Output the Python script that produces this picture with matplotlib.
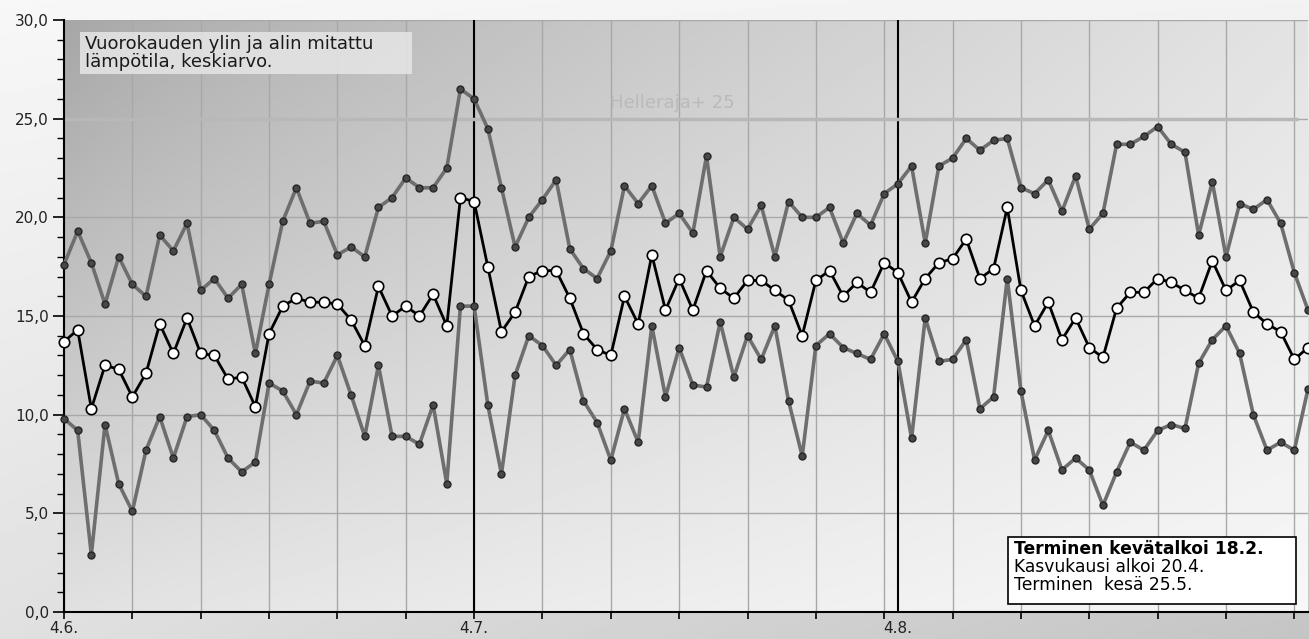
import numpy as np
import matplotlib
matplotlib.use("Agg")
import matplotlib.pyplot as plt
from matplotlib.ticker import MultipleLocator, FuncFormatter

plt.rcParams["font.family"] = ["DejaVu Sans"]

# daily values from 4.6. to 3.9.
t_max = [17.6, 19.3, 17.7, 15.6, 18.0, 16.6, 16.0, 19.1, 18.3, 19.7, 16.3, 16.9, 15.9, 16.6, 13.1, 16.6,
         19.8, 21.5, 19.7, 19.8, 18.1, 18.5, 18.0, 20.5, 21.0, 22.0, 21.5, 21.5, 22.5, 26.5, 26.0, 24.5,
         21.5, 18.5, 20.0, 20.9, 21.9, 18.4, 17.4, 16.9, 18.3, 21.6, 20.7, 21.6, 19.7, 20.2, 19.2, 23.1,
         18.0, 20.0, 19.4, 20.6, 18.0, 20.8, 20.0, 20.0, 20.5, 18.7, 20.2, 19.6, 21.2, 21.7, 22.6, 18.7,
         22.6, 23.0, 24.0, 23.4, 23.9, 24.0, 21.5, 21.2, 21.9, 20.3, 22.1, 19.4, 20.2, 23.7, 23.7, 24.1,
         24.6, 23.7, 23.3, 19.1, 21.8, 18.0, 20.7, 20.4, 20.9, 19.7, 17.2, 15.3]
t_mean = [13.7, 14.3, 10.3, 12.5, 12.3, 10.9, 12.1, 14.6, 13.1, 14.9, 13.1, 13.0, 11.8, 11.9, 10.4, 14.1,
          15.5, 15.9, 15.7, 15.7, 15.6, 14.8, 13.5, 16.5, 15.0, 15.5, 15.0, 16.1, 14.5, 21.0, 20.8, 17.5,
          14.2, 15.2, 17.0, 17.3, 17.3, 15.9, 14.1, 13.3, 13.0, 16.0, 14.6, 18.1, 15.3, 16.9, 15.3, 17.3,
          16.4, 15.9, 16.8, 16.8, 16.3, 15.8, 14.0, 16.8, 17.3, 16.0, 16.7, 16.2, 17.7, 17.2, 15.7, 16.9,
          17.7, 17.9, 18.9, 16.9, 17.4, 20.5, 16.3, 14.5, 15.7, 13.8, 14.9, 13.4, 12.9, 15.4, 16.2, 16.2,
          16.9, 16.7, 16.3, 15.9, 17.8, 16.3, 16.8, 15.2, 14.6, 14.2, 12.8, 13.4]
t_min = [9.8, 9.2, 2.9, 9.5, 6.5, 5.1, 8.2, 9.9, 7.8, 9.9, 10.0, 9.2, 7.8, 7.1, 7.6, 11.6,
         11.2, 10.0, 11.7, 11.6, 13.0, 11.0, 8.9, 12.5, 8.9, 8.9, 8.5, 10.5, 6.5, 15.5, 15.5, 10.5,
         7.0, 12.0, 14.0, 13.5, 12.5, 13.3, 10.7, 9.6, 7.7, 10.3, 8.6, 14.5, 10.9, 13.4, 11.5, 11.4,
         14.7, 11.9, 14.0, 12.8, 14.5, 10.7, 7.9, 13.5, 14.1, 13.4, 13.1, 12.8, 14.1, 12.7, 8.8, 14.9,
         12.7, 12.8, 13.8, 10.3, 10.9, 16.9, 11.2, 7.7, 9.2, 7.2, 7.8, 7.2, 5.4, 7.1, 8.6, 8.2,
         9.2, 9.5, 9.3, 12.6, 13.8, 14.5, 13.1, 10.0, 8.2, 8.6, 8.2, 11.3]

month_days = [0, 30, 61]
month_labels = ["4.6.", "4.7.", "4.8."]
helle_limit = 25
title_lines = ["Vuorokauden ylin ja alin mitattu", "lämpötila, keskiarvo."]
info_lines = ["Terminen kevätalkoi 18.2.", "Kasvukausi alkoi 20.4.", "Terminen  kesä 25.5."]

days = np.arange(len(t_mean))

W, H = 1309, 639
fig = plt.figure(figsize=(W / 100, H / 100), dpi=100)


def bilinear(tl, tr, bl, br, n=256, upow=1.0):
    u = np.linspace(0, 1, n)[None, :] ** upow
    v = np.linspace(0, 1, n)[:, None]  # 0 bottom, 1 top
    return tl * (1 - u) * v + tr * u * v + bl * (1 - u) * (1 - v) + br * u * (1 - v)


# figure background
bg = fig.add_axes([0, 0, 1, 1], zorder=-2)
bg.imshow(bilinear(0.97, 0.95, 0.88, 0.77), cmap="gray", vmin=0, vmax=1,
          origin="lower", extent=(0, 1, 0, 1), aspect="auto")
bg.axis("off")

left, right, top, bottom = 64, 1308, 20, 612
ax = fig.add_axes([left / W, 1 - bottom / H, (right - left) / W, (bottom - top) / H])
ax.patch.set_alpha(0)
ax.imshow(bilinear(0.65, 0.89, 0.88, 0.97, upow=0.75), cmap="gray", vmin=0, vmax=1,
          origin="lower", extent=(0, 1, 0, 1), aspect="auto",
          transform=ax.transAxes, zorder=0)

ax.set_xlim(0, 91)
ax.set_ylim(0, 30)


def px(x, y):
    # pixel position in the picture -> axes fraction
    return (x - left) / (right - left), (bottom - y) / (bottom - top)


# grid
ax.xaxis.set_major_locator(MultipleLocator(5))
ax.yaxis.set_major_locator(MultipleLocator(5))
ax.yaxis.set_minor_locator(MultipleLocator(1))
ax.grid(True, which="major", color="#a8a8a8", lw=1, zorder=1)
ax.set_axisbelow(True)

for d in month_days[1:]:
    ax.axvline(d, color="black", lw=1.5, zorder=2)

# heat limit line
ax.plot([0, 90.3], [helle_limit, helle_limit], color="#b8b8b8", lw=2.5, zorder=2,
        solid_capstyle="butt")
ax.text(44.5, 25.8, "Helleraja+ 25", color="#bababa", fontsize=13,
        ha="center", va="center", zorder=2)

# series
for ys in (t_max, t_min):
    ax.plot(days, ys, color="#6e6e6e", lw=2.6, marker="o", ms=5,
            mfc="#474747", mec="#262626", mew=1, zorder=3, clip_on=False)
ax.plot(days, t_mean, color="black", lw=2, marker="o", ms=7.5,
        mfc="white", mec="black", mew=1.2, zorder=4, clip_on=False)

# axes styling
for s in ("top", "right"):
    ax.spines[s].set_visible(False)
ax.spines["left"].set_linewidth(1.5)
ax.spines["bottom"].set_linewidth(1.5)

ax.yaxis.set_major_formatter(FuncFormatter(lambda v, p: f"{v:.1f}".replace(".", ",")))
ax.tick_params(axis="y", which="major", length=8, width=1.2, labelsize=11,
               labelcolor="#222222", pad=3)
ax.tick_params(axis="y", which="minor", length=5, width=1)
ax.tick_params(axis="x", which="major", length=5, width=1.2, labelbottom=False)

for d, lab in zip(month_days, month_labels):
    ax.annotate(lab, xy=(d, 0), xycoords=("data", "axes fraction"),
                xytext=(0, -9), textcoords="offset pixels", ha="center", va="top",
                fontsize=11, color="#222222", annotation_clip=False)

# description box
x0, y0 = px(80, 74)
x1, y1 = px(412, 32)
ax.add_patch(plt.Rectangle((x0, y0), x1 - x0, y1 - y0, transform=ax.transAxes,
                           fc="#e6e6e6", ec="none", alpha=0.85, zorder=5))
for yy, line in zip((44, 62), title_lines):
    ax.text(*px(85, yy), line, transform=ax.transAxes, ha="left", va="center",
            fontsize=13, color="#1a1a1a", zorder=6)

# info box
x0, y0 = px(1008, 604)
x1, y1 = px(1296, 537)
ax.add_patch(plt.Rectangle((x0, y0), x1 - x0, y1 - y0, transform=ax.transAxes,
                           fc="white", ec="black", lw=1.2, zorder=5))
ax.text(*px(1014, 549), info_lines[0], transform=ax.transAxes, ha="left", va="center",
        fontsize=12.3, fontweight="bold", color="black", zorder=6)
for yy, line in zip((567, 585), info_lines[1:]):
    ax.text(*px(1014, yy), line, transform=ax.transAxes, ha="left", va="center",
            fontsize=12.3, color="black", zorder=6)

fig.savefig("out.png", dpi=100)
plt.close(fig)
